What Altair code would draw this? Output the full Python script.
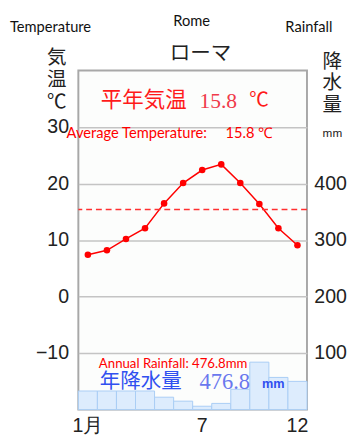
import altair as alt
import pandas as pd

months = list(range(1, 13))
temperature = [7.4, 8.2, 10.2, 12.1, 16.5, 20.1, 22.4, 23.4, 20.1, 16.4, 12.1, 9.1]
rainfall = [33, 33, 33, 33, 22, 15, 6, 11, 36, 84, 57, 50]
avg_line = [15.4]
temp_ticks = [-10, 0, 10, 20, 30]
rain_ticks = [100, 200, 300, 400]

df = pd.DataFrame({"month": months, "temp": temperature, "rain": rainfall})

xenc = alt.X(
    "month:O",
    scale=alt.Scale(paddingInner=0, paddingOuter=0),
    axis=alt.Axis(
        title=None, labelAngle=0, ticks=False, domain=False, labelFontSize=20,
        labelFont="Liberation Sans", labelColor="#222", labelPadding=6,
        labelExpr="datum.value == 1 ? '1月' : (datum.value == 7 || datum.value == 12 ? datum.value : '')",
    ),
)

bars = alt.Chart(df).mark_bar(fill="#ddecfd", stroke="#a9cdf5", strokeWidth=1).encode(
    x=xenc,
    y=alt.Y(
        "rain:Q",
        scale=alt.Scale(domain=[0, 600], nice=False, zero=True),
        axis=alt.Axis(
            orient="right", values=rain_ticks, grid=False, ticks=False, domain=False,
            title=None, labelFontSize=20, labelFont="Liberation Sans", labelColor="#222",
            labelPadding=7, labelAlign="left",
        ),
    ),
)

tscale = alt.Scale(domain=[-20, 40], nice=False, zero=False)
line = alt.Chart(df).mark_line(color="#ff0000", strokeWidth=1.5).encode(
    x=xenc,
    y=alt.Y(
        "temp:Q",
        scale=tscale,
        axis=alt.Axis(
            orient="left", values=temp_ticks, grid=True, gridColor="#c4c4c4", gridWidth=1.5,
            ticks=False, domain=False, title=None, labelFontSize=20,
            labelFont="Liberation Sans", labelColor="#222", labelPadding=10,
        ),
    ),
)
points = alt.Chart(df).mark_circle(color="#ff0000", size=45, opacity=1).encode(
    x=xenc, y=alt.Y("temp:Q", scale=tscale)
)
rule = alt.Chart(pd.DataFrame({"avg": avg_line})).mark_rule(
    color="#ff3030", strokeDash=[6, 4], strokeWidth=1.5
).encode(y=alt.Y("avg:Q", scale=tscale))

temp_layer = alt.layer(line, points, rule)


def txt(s, x, y, size, color, font="Lato", align="left", weight="normal"):
    return alt.Chart(pd.DataFrame({"t": [s]})).mark_text(
        align=align, baseline="middle", font=font, fontSize=size, color=color, fontWeight=weight
    ).encode(x=alt.value(x), y=alt.value(y), text="t:N")


NB = "\u00a0"
JP = "Noto Sans CJK JP"
labels = [
    txt("Temperature", -70, -45, 15, "#111"),
    txt("Rome", 116, -51, 15, "#111", align="center"),
    txt("Rainfall", 236, -44, 15, "#111", align="center"),
    txt("ローマ", 125, -17, 21, "#222", font=JP, align="center"),
    txt("気", -22, -13, 20, "#222", font=JP, align="center"),
    txt("温", -22, 9.5, 20, "#222", font=JP, align="center"),
    txt("℃", -22, 32, 20, "#222", font=JP, align="center"),
    txt("降", 260, -9, 20, "#222", font=JP, align="center"),
    txt("水", 260, 13, 20, "#222", font=JP, align="center"),
    txt("量", 260, 35, 20, "#222", font=JP, align="center"),
    txt("mm", 260, 64, 12, "#222", font="Liberation Sans", align="center"),
    txt("平年気温", 23, 30, 22, "#ff1a1a", font=JP),
    txt("15.8", 124, 31, 22, "#f03a4a", font="Liberation Serif"),
    txt("℃", 175, 30, 20, "#ff1a1a", font=JP),
    txt("Average Temperature:" + NB * 5 + "15.8 ℃", -12, 64, 15, "#ff0000"),
    txt("Annual Rainfall: 476.8mm", 21, 300, 13.5, "#ff0000"),
    txt("年降水量", 22, 319, 21, "#3050f0", font=JP),
    txt("476.8", 124, 319, 23, "#6a78ee", font="Liberation Serif"),
    txt("mm", 188, 321, 13, "#3050f0", font="Liberation Sans", weight="bold"),
]

chart = (
    alt.layer(bars, temp_layer, *labels)
    .resolve_scale(y="independent")
    .properties(
        width=234,
        height=347,
        autosize=alt.AutoSizeParams(type="none"),
        padding={"left": 72, "top": 59, "right": 43, "bottom": 25},
        background="white",
    )
    .configure_view(stroke="#a8a8a8", strokeWidth=2, fill="#fcfdfc")
)

chart.save("out.html", embed_options={"renderer": "svg", "actions": False})
